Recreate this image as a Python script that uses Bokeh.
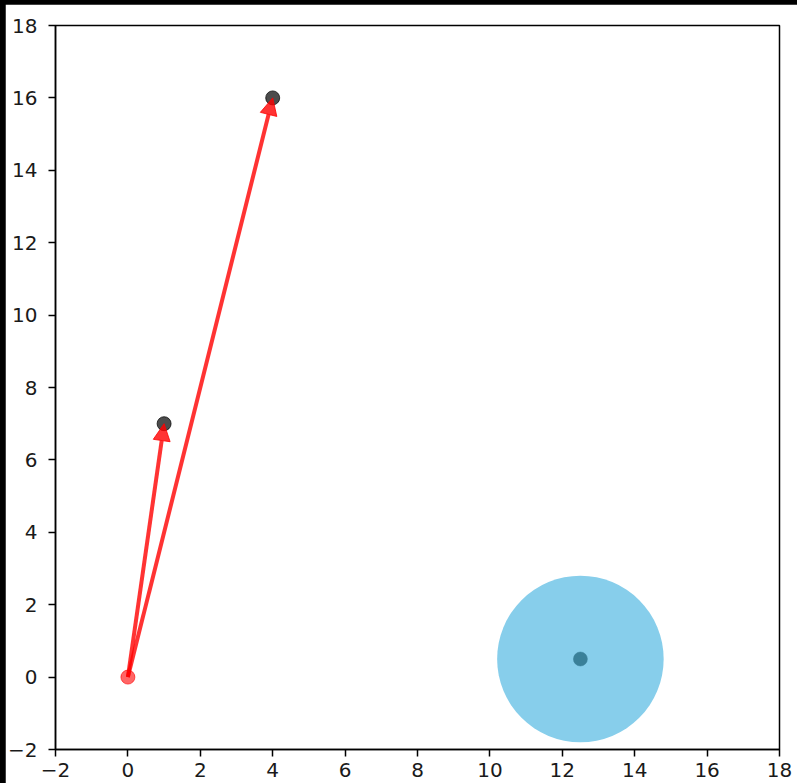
from bokeh.plotting import figure
from bokeh.models import Arrow, NormalHead, FixedTicker, Range1d
from bokeh.embed import file_html
from bokeh.resources import INLINE

# ---- data ----
origin_x = [0]
origin_y = [0]
vec_x = [1, 4]
vec_y = [7, 16]
circle_x = [12.5]
circle_y = [0.5]
circle_r = [2.3]
tick_values = [-2, 0, 2, 4, 6, 8, 10, 12, 14, 16, 18]
tick_labels = {t: (str(t) if t >= 0 else "\u2212" + str(-t)) for t in tick_values}

p = figure(width=792, height=779, output_backend="svg", toolbar_location=None,
           x_range=Range1d(-2, 18), y_range=Range1d(-2, 18),
           min_border_left=50, min_border_top=21, min_border_right=18, min_border_bottom=34)

p.background_fill_color = "white"
p.border_fill_color = "white"
p.grid.visible = False
p.outline_line_color = "black"
p.outline_line_width = 1.5
p.outline_line_alpha = 1

for ax in (p.xaxis[0], p.yaxis[0]):
    ax.ticker = FixedTicker(ticks=tick_values)
    ax.major_label_overrides = tick_labels
    ax.axis_line_width = 1.5
    ax.axis_line_color = "black"
    ax.major_tick_line_width = 1.5
    ax.major_tick_line_color = "black"
    ax.major_tick_out = 7
    ax.major_tick_in = 0
    ax.minor_tick_out = 0
    ax.minor_tick_in = 0
    ax.major_label_text_font = "DejaVu Sans"
    ax.major_label_text_font_size = "20px"
    ax.major_label_text_color = "#1a1a1a"
p.yaxis[0].major_label_standoff = 11
p.xaxis[0].major_label_standoff = 6

# circle
p.circle(x=circle_x, y=circle_y, radius=circle_r, fill_color="#87ceeb", line_color=None)
p.scatter(x=circle_x, y=circle_y, size=14, fill_color="#3a8099", line_color="#3a8099", line_alpha=0.5)

# arrows
for ex, ey in zip(vec_x, vec_y):
    p.add_layout(Arrow(x_start=origin_x[0], y_start=origin_y[0], x_end=ex, y_end=ey,
                       line_color="red", line_width=4, line_alpha=0.8,
                       end=NormalHead(size=17, fill_color="red", fill_alpha=0.8,
                                      line_color="red", line_alpha=0.8, line_width=1)))

# endpoints
p.scatter(x=vec_x, y=vec_y, size=14, fill_color="black", fill_alpha=0.7, line_color="black", line_alpha=0.7)
p.scatter(x=origin_x, y=origin_y, size=14, fill_color="red", fill_alpha=0.6, line_color="red", line_alpha=0.6)

html = file_html(p, INLINE)
html = html.replace("<head>", "<head><style>html,body{background:#000;} body{padding:4px 0 0 5px !important;}</style>", 1)
open("out.html", "w").write(html)
